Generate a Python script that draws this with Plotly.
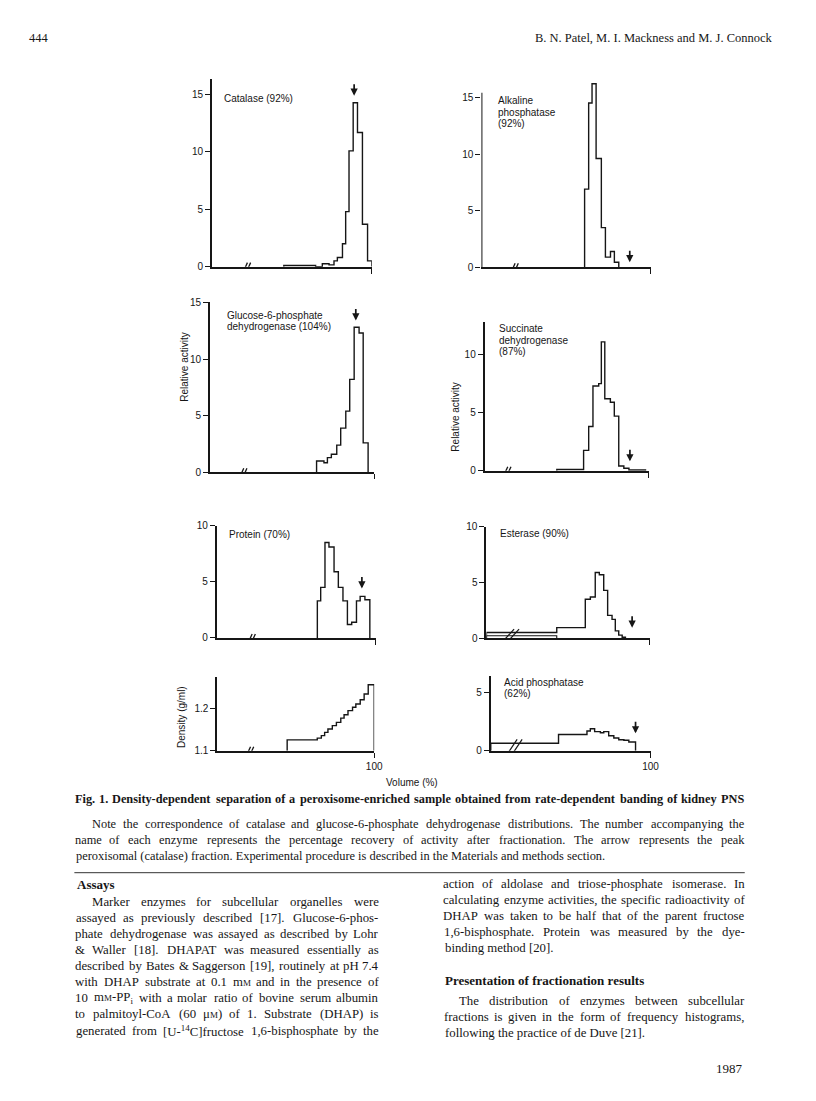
import re
import plotly.graph_objects as go

W, H = 816, 1101
INK = "#161616"
SANS = "Liberation Sans, Arial, sans-serif"
SERIF = "Liberation Serif, Times New Roman, serif"

# ---------------- data: bin edges (volume %) and heights ----------------
catalase_edges = [44.9, 64.8, 69.0, 73.2, 76.3, 78.4, 81.6, 83.6, 85.7, 88.3, 91.0, 94.1, 97.3, 100.0]
catalase_vals = [0.1, 0.0, 0.25, 0.15, 0.5, 0.8, 2.0, 4.8, 10.1, 14.3, 11.7, 3.7, 0.5]

alkphos_edges = [61.0, 63.4, 65.4, 67.8, 70.9, 73.3, 76.3, 78.6, 81.2]
alkphos_vals = [6.9, 14.5, 16.2, 9.6, 3.5, 0.9, 1.4, 0.45]

g6pdh_edges = [64.9, 69.4, 71.5, 73.9, 77.2, 79.6, 82.7, 85.1, 87.8, 90.8, 93.3, 96.3]
g6pdh_vals = [1.0, 0.85, 1.3, 1.6, 2.4, 3.9, 5.4, 8.2, 12.8, 12.3, 2.6]

succdh_edges = [43.9, 60.2, 63.3, 65.9, 69.4, 71.0, 73.1, 76.5, 78.9, 81.6, 84.7, 87.8, 97.9]
succdh_vals = [0.1, 1.75, 3.8, 7.3, 7.5, 11.1, 6.2, 5.9, 4.7, 0.4, 0.2, 0.05]

protein_edges = [63.2, 65.3, 68.0, 70.5, 73.7, 76.4, 79.3, 82.1, 84.8, 87.8, 90.1, 93.1, 96.2]
protein_vals = [3.3, 4.5, 8.5, 8.1, 5.9, 4.5, 3.3, 1.2, 1.4, 3.3, 3.7, 3.4]

esterase_edges = [0.0, 43.1, 60.6, 63.7, 66.7, 69.2, 71.9, 74.3, 77.0, 79.0, 81.1, 83.2, 85.2]
esterase_vals = [0.52, 0.96, 3.5, 3.7, 5.9, 5.7, 4.3, 2.06, 1.7, 0.67, 0.29, 0.1]
esterase_inner_edges = [0.0, 43.1]
esterase_inner_vals = [0.24]

density_edges = [44.5, 63.7, 66.3, 68.4, 70.5, 73.3, 75.9, 78.7, 80.8, 83.3, 86.2, 88.3, 91.1, 93.6, 96.2, 100.0]
density_vals = [1.126, 1.130, 1.136, 1.144, 1.152, 1.160, 1.168, 1.178, 1.186, 1.196, 1.204, 1.212, 1.222, 1.236, 1.258]

acidphos_edges = [0.0, 42.4, 60.2, 62.3, 65.0, 68.6, 70.7, 73.8, 77.0, 80.1, 83.3, 86.4, 90.6]
acidphos_vals = [0.65, 1.4, 1.7, 1.9, 1.65, 1.55, 1.65, 1.3, 1.1, 0.95, 0.9, 0.75]

# peak peroxisomal (catalase) fraction arrows: x position, tip height
arrow_x = [88.9, 87.7, 88.8, 88.4, 91.2, 89.3, None, 90.6]
arrow_y = [14.9, 0.45, 13.4, 0.8, 4.4, 0.95, None, 1.5]

panel_labels = [
    ["Catalase (92%)"],
    ["Alkaline", "phosphatase", "(92%)"],
    ["Glucose-6-phosphate", "dehydrogenase (104%)"],
    ["Succinate", "dehydrogenase", "(87%)"],
    ["Protein (70%)"],
    ["Esterase (90%)"],
    [],
    ["Acid phosphatase", "(62%)"],
]
y_ticks = [[0, 5, 10, 15], [0, 5, 10, 15], [0, 5, 10, 15], [0, 5, 10],
           [0, 5, 10], [0, 5, 10], [1.1, 1.2], [0, 5]]
x_tick = [100]
x_tick_text = ["100"]

# ---------------- layout geometry (page pixels) ----------------
series = [
    (catalase_edges, catalase_vals), (alkphos_edges, alkphos_vals),
    (g6pdh_edges, g6pdh_vals), (succdh_edges, succdh_vals),
    (protein_edges, protein_vals), (esterase_edges, esterase_vals),
    (density_edges, density_vals), (acidphos_edges, acidphos_vals),
]
geom = [
    dict(xpx=(212, 371), ypx=(266, 78), yr=(0, 16.4), base=0, brk=22.0, lab=(222, [98])),
    dict(xpx=(480, 648.3), ypx=(266.7, 80.9), yr=(0, 16.4), base=0, brk=19.8, lab=(495, [100, 111.7, 122.7]), axis_top=15.4),
    dict(xpx=(210, 373.3), ypx=(471.7, 301.7), yr=(0, 15), base=0, brk=20.4, lab=(225, [315, 325.7])),
    dict(xpx=(483.3, 646.7), ypx=(470, 321.5), yr=(0, 12.8), base=0, brk=13.9, lab=(495.7, [328.3, 340, 351])),
    dict(xpx=(216.7, 375), ypx=(637.3, 525), yr=(0, 10), base=0, brk=22.1, lab=(226.7, [534.3])),
    dict(xpx=(485, 647.3), ypx=(637.7, 526), yr=(0, 10), base=0, brk=14.8, lab=(496.7, [532.7]), bigbrk=(0.24, 13)),
    dict(xpx=(217.3, 373.3), ypx=(750, 676), yr=(1.1, 1.2775), base=1.1, brk=21.0, lab=(0, []), xlabels=True),
    dict(xpx=(489.3, 648.3), ypx=(750, 675), yr=(0, 6.5), base=0, brk=14.3, lab=(500, [682.3, 692.7]), bigbrk=(0.2, 18), xlabels=True),
]

# small correction of the page frame (measured against the target)
AX, BX, AY, BY = 0.984, 1.0, 0.989, 5.4


def X(x):
    return (x - BX) / AX


def Y(y):
    return (y - BY) / AY


def px(x):
    return X(x) / W


def py(y):
    return 1 - Y(y) / H


fig = go.Figure()
shapes = []
annotations = []

for i, ((edges, vals), g) in enumerate(zip(series, geom)):
    n = i + 1
    xa = "x" if n == 1 else f"x{n}"
    ya = "y" if n == 1 else f"y{n}"
    base = g["base"]
    xs = [edges[0]] + edges[:-1] + [edges[-1]]
    ys = [base] + vals + [base]
    fig.add_trace(go.Scatter(x=xs, y=ys, mode="lines", line=dict(color=INK, width=1.4, shape="hv"),
                             xaxis=xa, yaxis=ya, hoverinfo="skip"))
    if n == 6:
        xs2 = [esterase_inner_edges[0]] + esterase_inner_edges[:-1] + [esterase_inner_edges[-1]]
        ys2 = [base] + esterase_inner_vals + [base]
        fig.add_trace(go.Scatter(x=xs2, y=ys2, mode="lines", line=dict(color=INK, width=1.1, shape="hv"),
                                 xaxis=xa, yaxis=ya, hoverinfo="skip"))

    xk = "xaxis" if n == 1 else f"xaxis{n}"
    yk = "yaxis" if n == 1 else f"yaxis{n}"
    fig.layout[xk] = dict(
        domain=[px(g["xpx"][0]), px(g["xpx"][1])], range=[0, 100], anchor=ya,
        showline=True, linewidth=1.8, linecolor=INK, showgrid=False, zeroline=False,
        ticks="outside", ticklen=5, tickwidth=1.4, tickcolor=INK,
        tickvals=x_tick, ticktext=x_tick_text, showticklabels=g.get("xlabels", False),
        tickfont=dict(family=SANS, size=10, color=INK), fixedrange=True,
    )
    fig.layout[yk] = dict(
        domain=[py(g["ypx"][0]), py(g["ypx"][1])], range=list(g["yr"]), anchor=xa,
        showline="axis_top" not in g, linewidth=2, linecolor=INK, showgrid=False, zeroline=False,
        ticks="outside", ticklen=5, tickwidth=1.4, tickcolor=INK,
        tickvals=y_ticks[i], tickfont=dict(family=SANS, size=10, color=INK), fixedrange=True,
    )
    if "axis_top" in g:
        shapes.append(dict(type="line", xref=xa, yref=ya, x0=0, x1=0, y0=base, y1=g["axis_top"],
                           line=dict(color=INK, width=2)))

    # axis break marks
    if "bigbrk" in g:
        by, hh = g["bigbrk"]
        for off in (-2.5, 2.5):
            shapes.append(dict(type="line", xref=xa, yref=ya, xsizemode="pixel", ysizemode="pixel",
                               xanchor=g["brk"], yanchor=by, x0=off - 6, x1=off + 6, y0=-hh / 2, y1=hh / 2,
                               line=dict(color=INK, width=1.2)))
    else:
        for off in (-1.6, 1.6):
            shapes.append(dict(type="line", xref=xa, yref=ya, xsizemode="pixel", ysizemode="pixel",
                               xanchor=g["brk"], yanchor=base, x0=off - 1.8, x1=off + 1.8, y0=-4, y1=4,
                               line=dict(color=INK, width=1.3)))

    # arrow marking peak peroxisomal fraction
    if arrow_x[i] is not None:
        annotations.append(dict(x=arrow_x[i], y=arrow_y[i], xref=xa, yref=ya, text="", showarrow=True,
                                ax=0, ay=-13, arrowhead=2, arrowsize=0.85, arrowwidth=1.7,
                                arrowcolor=INK, standoff=0))

    # enzyme label
    lx, lys = g["lab"]
    for line, ly in zip(panel_labels[i], lys):
        annotations.append(dict(x=px(lx), y=py(ly), xref="paper", yref="paper", text=line,
                                showarrow=False, xanchor="left", yanchor="middle",
                                font=dict(family=SANS, size=10, color=INK)))

# axis titles
axis_titles = [("Relative activity", 184.5, 366.7), ("Relative activity", 454, 416.7), ("Density (g/ml)", 181.7, 716.7)]
for t, x, y in axis_titles:
    annotations.append(dict(x=px(x), y=py(y), xref="paper", yref="paper", text=t, textangle=-90,
                            showarrow=False, xanchor="center", yanchor="middle",
                            font=dict(family=SANS, size=10, color=INK)))
annotations.append(dict(x=px(411), y=py(782), xref="paper", yref="paper", text="Volume (%)",
                        showarrow=False, xanchor="center", yanchor="middle",
                        font=dict(family=SANS, size=10, color=INK)))

# ---------------- page text (justified like the printed page) ----------------
ROMAN = {" ": 250, "%": 833, "&": 778, "(": 333, ")": 333, ",": 250, "-": 333, ".": 250, "/": 278,
         ":": 278, ";": 278, "[": 333, "]": 333, "μ": 500,
         "A": 722, "B": 667, "C": 667, "D": 722, "E": 611, "F": 556, "G": 722, "H": 722, "I": 333,
         "J": 389, "K": 722, "L": 611, "M": 889, "N": 722, "O": 722, "P": 556, "Q": 722, "R": 667,
         "S": 556, "T": 611, "U": 722, "V": 722, "W": 944, "X": 722, "Y": 722, "Z": 611,
         "a": 444, "b": 500, "c": 444, "d": 500, "e": 444, "f": 333, "g": 500, "h": 500, "i": 278,
         "j": 278, "k": 500, "l": 278, "m": 778, "n": 500, "o": 500, "p": 500, "q": 500, "r": 333,
         "s": 389, "t": 278, "u": 500, "v": 500, "w": 722, "x": 500, "y": 500, "z": 444}
BOLD = {" ": 250, "%": 1000, "&": 833, "(": 333, ")": 333, ",": 250, "-": 333, ".": 250, ":": 333,
        "A": 722, "B": 667, "C": 722, "D": 722, "E": 667, "F": 611, "G": 778, "H": 778, "I": 389,
        "J": 500, "K": 778, "L": 667, "M": 944, "N": 722, "O": 778, "P": 611, "Q": 778, "R": 722,
        "S": 556, "T": 667, "U": 722, "V": 722, "W": 1000, "X": 722, "Y": 722, "Z": 667,
        "a": 500, "b": 556, "c": 444, "d": 556, "e": 444, "f": 333, "g": 500, "h": 556, "i": 278,
        "j": 333, "k": 556, "l": 278, "m": 833, "n": 556, "o": 500, "p": 556, "q": 556, "r": 444,
        "s": 389, "t": 333, "u": 556, "v": 500, "w": 722, "x": 500, "y": 500, "z": 444}
RENDER = 1.03  # rendered glyphs run a little wider than the nominal metrics


def text_width(html, size, bold=False):
    table = BOLD if bold else ROMAN
    w, scale = 0.0, 1.0
    for tok in re.split(r"(<[^>]+>)", html):
        if tok.startswith("<"):
            t = tok.lower()
            if t.startswith("</"):
                scale = 1.0
            elif t.startswith("<sub") or t.startswith("<sup"):
                scale = 0.7
            elif t.startswith("<span"):
                m = re.search(r"font-size:([\d.]+)px", t)
                scale = float(m.group(1)) / size if m else 1.0
            continue
        for ch in tok:
            w += table.get(ch, 500) * scale
    return RENDER * w * size / 1000.0


def add_text(text, x0, x1, y, size, bold=False, justify=False, anchor="left"):
    font = dict(family=SERIF, size=size, color=INK)
    yy = py(y)
    if not justify:
        xx = px(x0) if anchor == "left" else px(x1)
        t = f"<b>{text}</b>" if bold else text
        annotations.append(dict(x=xx, y=yy, xref="paper", yref="paper", text=t, showarrow=False,
                                xanchor=anchor, yanchor="middle", font=font))
        return
    words = re.split(r" (?![^<]*>)", text)
    left, right = X(x0), X(x1)
    widths = [text_width(wd, size, bold) for wd in words]
    gap = (right - left - sum(widths)) / max(len(words) - 1, 1)
    pos = left
    for wd, wdt in zip(words, widths):
        t = f"<b>{wd}</b>" if bold else wd
        annotations.append(dict(x=(pos + wdt / 2) / W, y=yy, xref="paper", yref="paper", text=t,
                                showarrow=False, xanchor="center", yanchor="middle", font=font,
                                borderpad=0))
        pos += wdt + gap


SM = "<span style='font-size:9px'>M</span>"
LC = (76, 378)
RC = (442, 742)
FULL = (75, 742)
BODY = 12.8

add_text("444", 28, 28, 37, 12.5)
add_text("B. N. Patel, M. I. Mackness and M. J. Connock", 772, 772, 37, 12.5, anchor="right")

add_text("Fig. 1. Density-dependent separation of a peroxisome-enriched sample obtained from rate-dependent banding of kidney PNS",
         FULL[0], FULL[1], 798, 12.3, bold=True, justify=True)
add_text("Note the correspondence of catalase and glucose-6-phosphate dehydrogenase distributions. The number accompanying the",
         93, FULL[1], 823, 12.4, justify=True)
add_text("name of each enzyme represents the percentage recovery of activity after fractionation. The arrow represents the peak",
         FULL[0], FULL[1], 839, 12.4, justify=True)
add_text("peroxisomal (catalase) fraction. Experimental procedure is described in the Materials and methods section.",
         FULL[0], FULL[1], 855, 12.4)

left_col = [
    ("Marker enzymes for subcellular organelles were", 92, 901, True),
    ("assayed as previously described [17]. Glucose-6-phos-", LC[0], 917, True),
    ("phate dehydrogenase was assayed as described by Lohr", LC[0], 933, True),
    ("& Waller [18]. DHAPAT was measured essentially as", LC[0], 949, True),
    ("described by Bates & Saggerson [19], routinely at pH 7.4", LC[0], 965, True),
    ("with DHAP substrate at 0.1 m" + SM + " and in the presence of", LC[0], 981, True),
    ("10 m" + SM + "-PP<sub>i</sub> with a molar ratio of bovine serum albumin", LC[0], 997, True),
    ("to palmitoyl-CoA (60 μ" + SM + ") of 1. Substrate (DHAP) is", LC[0], 1013, True),
    ("generated from [U-<sup>14</sup>C]fructose 1,6-bisphosphate by the", LC[0], 1030, True),
]
right_col = [
    ("action of aldolase and triose-phosphate isomerase. In", RC[0], 883, True),
    ("calculating enzyme activities, the specific radioactivity of", RC[0], 899, True),
    ("DHAP was taken to be half that of the parent fructose", RC[0], 915, True),
    ("1,6-bisphosphate. Protein was measured by the dye-", RC[0], 931, True),
    ("binding method [20].", RC[0], 947, False),
    ("The distribution of enzymes between subcellular", 458, 1000, True),
    ("fractions is given in the form of frequency histograms,", RC[0], 1016, True),
    ("following the practice of de Duve [21].", RC[0], 1032, False),
]
add_text("Assays", LC[0], LC[1], 884, 13, bold=True)
for t, x0, y, j in left_col:
    add_text(t, x0, LC[1], y, BODY, justify=j)
add_text("Presentation of fractionation results", RC[0], RC[1], 980, 13, bold=True)
for t, x0, y, j in right_col:
    add_text(t, x0, RC[1], y, BODY, justify=j)
add_text("1987", 742, 742, 1068, 13, anchor="right")

shapes.append(dict(type="line", xref="paper", yref="paper", x0=px(75), x1=px(742), y0=py(872), y1=py(872),
                   line=dict(color="#333333", width=1)))

fig.update_layout(width=W, height=H, margin=dict(l=0, r=0, t=0, b=0), autosize=False,
                  paper_bgcolor="white", plot_bgcolor="white", showlegend=False,
                  shapes=shapes, annotations=annotations)
fig.write_html("out.html", config={"displayModeBar": False},
               post_script="document.body.style.margin='0';document.body.style.padding='0';document.body.style.overflow='hidden';")
